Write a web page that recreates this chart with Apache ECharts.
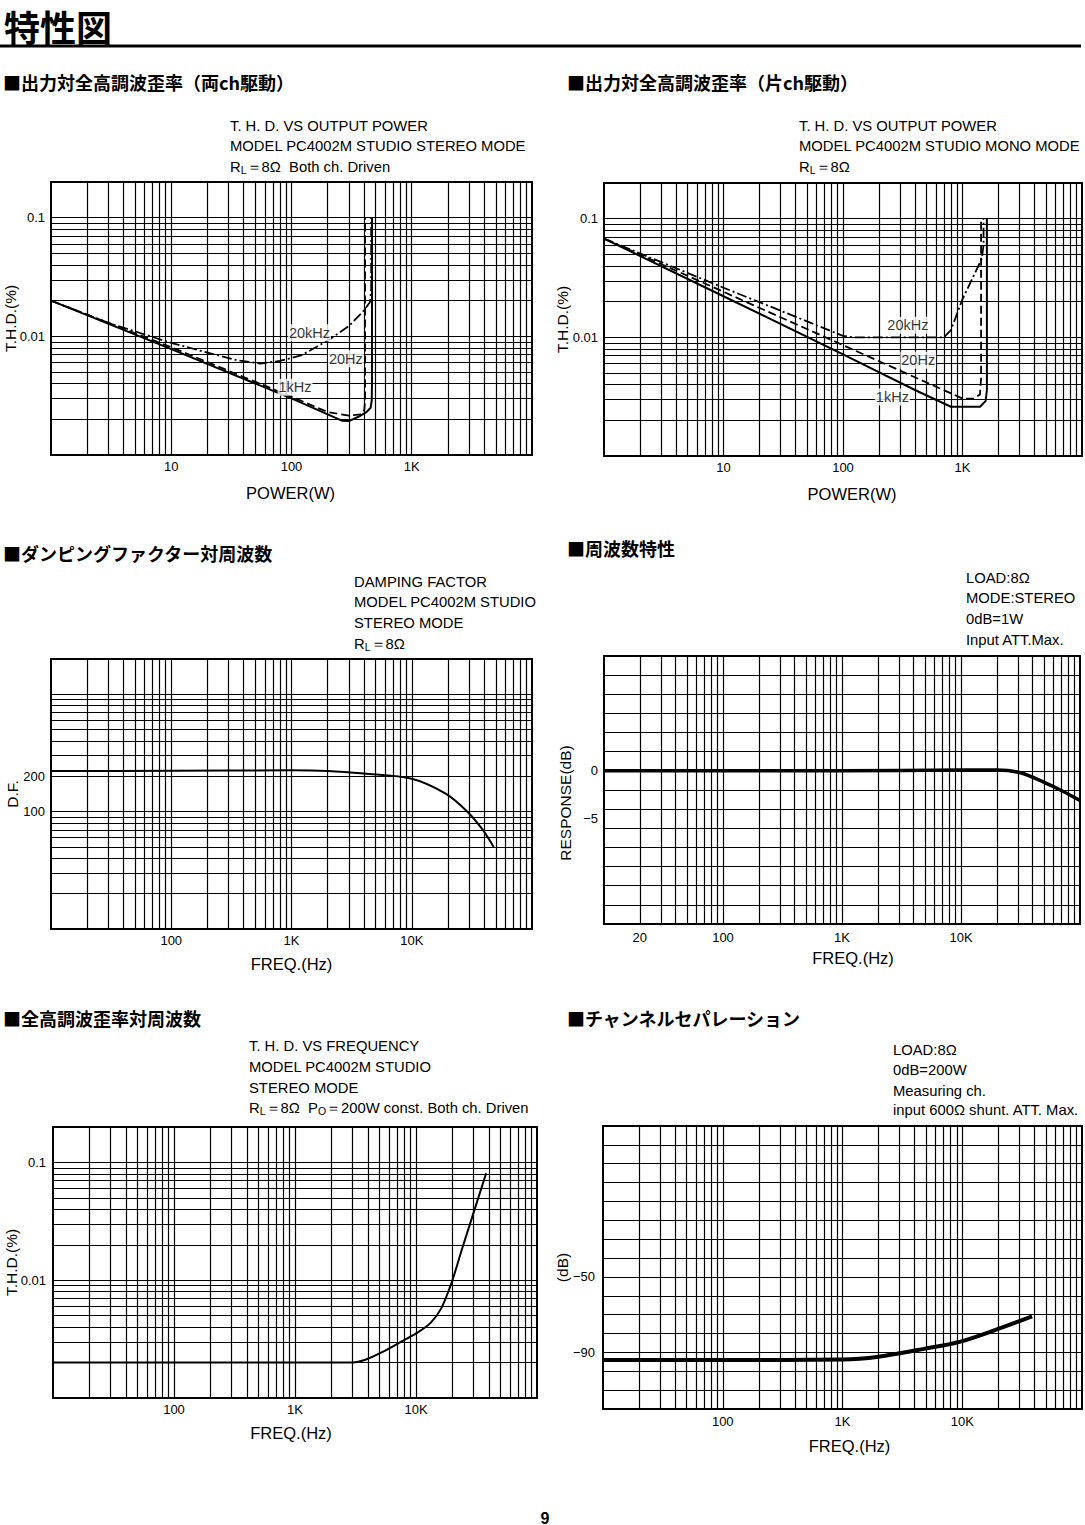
<!DOCTYPE html>
<html>
<head>
<meta charset="utf-8">
<script src="https://cdn.jsdelivr.net/npm/echarts@6/dist/echarts.min.js"></script>
<style>
html,body{margin:0;padding:0;background:#fff;}
#c{width:1085px;height:1525px;}
</style>
</head>
<body>
<div id="c"></div>
<script>
// ================= DATA =================
// Tick labels
const powerTickValues = [10, 100, 1000];
const powerTickLabels = ['10', '100', '1K'];
const freqTickValues = [100, 1000, 10000];
const freqTickLabels = ['100', '1K', '10K'];
const respExtraFreqTick = 20;            // "20" on the frequency-response chart
const thdTickValues = [0.01, 0.1];
const thdTickLabels = ['0.01', '0.1'];
const dfTickValues = [100];
const dfExtraTick = 200;                 // "200" on the damping-factor chart
const respTickValues = [-5, 0];
const sepTickValues = [-90, -50];

// Chart 1: THD vs output power, stereo, both ch driven  [W, %]
const stereo1kHz = [[1,0.02],[10,0.0078],[100,0.003],[200,0.0022],[265,0.00194],[300,0.00193],[360,0.0021],[420,0.0023],[455,0.0025],[465,0.0029],[467,0.004],[467,0.1]];
const stereo20Hz = [[1,0.02],[10,0.0081],[100,0.0031],[200,0.0023],[300,0.00215],[380,0.0022],[403,0.0024],[409,0.0028],[409,0.1]];
const stereo20kHz = [[1,0.02],[3,0.013],[10,0.0088],[20,0.0073],[35,0.0063],[55,0.0059],[80,0.0062],[120,0.0069],[200,0.0092],[300,0.0122],[400,0.0165],[450,0.0195],[460,0.025],[460,0.1]];
const stereoLabels = [{name:'20kHz', value:[141,0.0107]},{name:'20Hz', value:[283,0.00646]},{name:'1kHz', value:[107,0.00372]}];

// Chart 2: THD vs output power, mono  [W, %]
const mono1kHz = [[1,0.068],[10,0.0222],[100,0.0072],[400,0.0036],[800,0.0026],[1400,0.0026],[1560,0.0029],[1600,0.0036],[1600,0.1]];
const mono20Hz = [[1,0.068],[10,0.0242],[100,0.0086],[1000,0.00305],[1250,0.00305],[1400,0.0033],[1430,0.0045],[1430,0.1]];
const mono20kHz = [[1,0.068],[10,0.0262],[100,0.0103],[120,0.01],[700,0.01],[800,0.0115],[1000,0.021],[1450,0.046],[1500,0.06],[1500,0.1]];
const monoLabels = [{name:'20kHz', value:[349,0.01264]},{name:'20Hz', value:[426,0.0064]},{name:'1kHz', value:[259,0.00315]}];

// Chart 3: damping factor vs frequency  [Hz, D.F.]
const dampingFactor = [[10,222],[100,223],[1000,225],[2000,222],[4000,211],[10000,191],[19000,143],[29000,100],[39000,70],[48000,50]];

// Chart 4: frequency response  [Hz, dB]
const freqResponse = [[10,0],[100,0],[1000,0],[10000,0.1],[20000,0.1],[31600,-0.2],[50000,-1.2],[71000,-2.1],[100000,-3.1]];

// Chart 5: THD vs frequency  [Hz, %]
const thdVsFreq = [[10,0.002],[1000,0.002],[3000,0.002],[3760,0.0021],[5250,0.00245],[7300,0.00295],[10200,0.00357],[13200,0.00434],[16200,0.0058],[19800,0.0097],[24000,0.0184],[29300,0.035],[38000,0.081]];

// Chart 6: channel separation  [Hz, dB]
const separation = [[10,-94],[100,-94],[1000,-93.8],[2000,-92.3],[4900,-88],[9500,-84.4],[18500,-78.3],[38300,-70.9]];

// ================= LAYOUT / STYLE =================
const LATIN = '"Liberation Sans", Arial, Helvetica, sans-serif';
const CJK = '"Noto Sans CJK JP", "Noto Sans CJK SC", sans-serif';
const INK = '#000';

const grids = [
  {left:51, top:182, width:481, height:273},
  {left:604, top:183, width:478, height:273},
  {left:51, top:659, width:481, height:270},
  {left:604, top:656, width:476, height:268},
  {left:53, top:1127, width:484, height:271},
  {left:603, top:1126, width:479, height:283}
].map(g => Object.assign({show:true, borderColor:INK, borderWidth:2, backgroundColor:'transparent', containLabel:false, outerBoundsMode:'none'}, g));

function decadeGrid(min, max) {
  const out = [];
  for (let d = Math.floor(Math.log10(min)); d <= Math.ceil(Math.log10(max)); d++) {
    for (let k = 1; k <= 9; k++) {
      const v = Number((k * Math.pow(10, d)).toPrecision(8));
      if (v > min * 1.000001 && v < max * 0.999999) out.push(v);
    }
  }
  return out;
}
function pickLog(vals, labels) {
  return v => { const i = vals.findIndex(t => Math.abs(Math.log10(v) - Math.log10(t)) < 1e-6); return i >= 0 ? labels[i] : ''; };
}
function pickLin(vals) {
  return v => vals.some(t => Math.abs(v - t) < 1e-9) ? String(v).replace('-', '\u2212') : '';
}
const TICK_SIZE = 13;
const tickFont = {color:INK, fontFamily:LATIN, fontSize:TICK_SIZE};
const nameFont = {color:INK, fontFamily:LATIN, fontSize:16.5};
const yNameFont = {color:INK, fontFamily:LATIN, fontSize:15.5, lineHeight:16};

function baseAxis(gi, extra) {
  return Object.assign({
    gridIndex:gi, axisLine:{show:false}, axisTick:{show:false}, splitLine:{show:false},
    minorTick:{show:false}, minorSplitLine:{show:false}, nameLocation:'middle', nameMoveOverlap:false
  }, extra);
}
function shiftPad(s) { return s >= 0 ? [0,0,0,2*s] : [0,-2*s,0,0]; }

const xAxes = [
  baseAxis(0, {type:'log', logBase:10, min:1, max:10000, axisLabel:Object.assign({margin:5, formatter:pickLog(powerTickValues, powerTickLabels)}, tickFont), name:'POWER(W)', nameGap:29, nameTextStyle:Object.assign({padding:shiftPad(-1)}, nameFont)}),
  baseAxis(1, {type:'log', logBase:10, min:1, max:10000, axisLabel:Object.assign({margin:5, formatter:pickLog(powerTickValues, powerTickLabels)}, tickFont), name:'POWER(W)', nameGap:29, nameTextStyle:Object.assign({padding:shiftPad(9)}, nameFont)}),
  baseAxis(2, {type:'log', logBase:10, min:10, max:100000, axisLabel:Object.assign({margin:5, formatter:pickLog(freqTickValues, freqTickLabels)}, tickFont), name:'FREQ.(Hz)', nameGap:26, nameTextStyle:Object.assign({padding:shiftPad(0)}, nameFont)}),
  baseAxis(3, {type:'log', logBase:10, min:10, max:100000, axisLabel:Object.assign({margin:7, formatter:pickLog(freqTickValues, freqTickLabels)}, tickFont), name:'FREQ.(Hz)', nameGap:25, nameTextStyle:Object.assign({padding:shiftPad(11)}, nameFont)}),
  baseAxis(4, {type:'log', logBase:10, min:10, max:100000, axisLabel:Object.assign({margin:5, formatter:pickLog(freqTickValues, freqTickLabels)}, tickFont), name:'FREQ.(Hz)', nameGap:26, nameTextStyle:Object.assign({padding:shiftPad(-4)}, nameFont)}),
  baseAxis(5, {type:'log', logBase:10, min:10, max:100000, axisLabel:Object.assign({margin:6, formatter:pickLog(freqTickValues, freqTickLabels)}, tickFont), name:'FREQ.(Hz)', nameGap:28, nameTextStyle:Object.assign({padding:shiftPad(7)}, nameFont)})
];

const yAxes = [
  baseAxis(0, {type:'log', logBase:10, min:0.001, max:0.2, axisLabel:Object.assign({margin:6, formatter:pickLog(thdTickValues, thdTickLabels)}, tickFont), name:'T.H.D.(%)', nameGap:33, nameRotate:90, nameTextStyle:yNameFont}),
  baseAxis(1, {type:'log', logBase:10, min:0.001, max:0.2, axisLabel:Object.assign({margin:6, formatter:pickLog(thdTickValues, thdTickLabels)}, tickFont), name:'T.H.D.(%)', nameGap:34, nameRotate:90, nameTextStyle:yNameFont}),
  baseAxis(2, {type:'log', logBase:10, min:10, max:2000, axisLabel:Object.assign({margin:6, formatter:pickLog(dfTickValues, dfTickValues.map(String))}, tickFont), name:'D.F.', nameGap:31, nameRotate:90, nameTextStyle:yNameFont}),
  baseAxis(3, {type:'value', min:-16, max:12, interval:2, splitLine:{show:true, lineStyle:{color:INK, width:1.2}}, axisLabel:Object.assign({margin:6, customValues:respTickValues, formatter:pickLin(respTickValues)}, tickFont), name:'RESPONSE(dB)', nameGap:31, nameRotate:90, nameTextStyle:Object.assign({}, yNameFont, {padding:[0,0,0,-26]})}),
  baseAxis(4, {type:'log', logBase:10, min:0.001, max:0.2, axisLabel:Object.assign({margin:7, formatter:pickLog(thdTickValues, thdTickLabels)}, tickFont), name:'T.H.D.(%)', nameGap:34, nameRotate:90, nameTextStyle:yNameFont}),
  baseAxis(5, {type:'value', min:-120, max:30, interval:10, splitLine:{show:true, lineStyle:{color:INK, width:1.2}}, axisLabel:Object.assign({margin:8, formatter:pickLin(sepTickValues)}, tickFont), name:'(dB)', nameGap:33, nameRotate:90, nameTextStyle:yNameFont})
];

// Graph-paper rulings drawn through the axes' own scales
function paper(xVals, yVals, labeled) {
  const data = [];
  const lab = labeled || [];
  xVals.forEach(v => { if (!lab.some(l => l.xAxis === v)) data.push({xAxis:v}); });
  yVals.forEach(v => { if (!lab.some(l => l.yAxis === v)) data.push({yAxis:v}); });
  lab.forEach(l => data.push(l));
  return {silent:true, symbol:['none','none'], precision:8, label:{show:false}, lineStyle:{color:INK, width:1.2, type:'solid'}, emphasis:{disabled:true}, animation:false, data};
}
function tickLabelItem(axisKey, value, text, distance) {
  const item = {label:{show:true, position:'start', formatter:text, distance:distance, color:INK, fontFamily:LATIN, fontSize:TICK_SIZE}};
  item[axisKey] = value;
  return item;
}

function line(gi, data, width, dash, extra) {
  return Object.assign({
    type:'line', xAxisIndex:gi, yAxisIndex:gi, data, showSymbol:false, symbol:'none', silent:true,
    lineStyle:{color:INK, width:width, type:dash || 'solid', cap:'butt', join:'round'}, z:3, animation:false
  }, extra || {});
}
function curveLabels(gi, items) {
  return {type:'scatter', xAxisIndex:gi, yAxisIndex:gi, z:10, symbol:'rect', symbolSize:1, silent:true,
    itemStyle:{color:'rgba(0,0,0,0)'}, animation:false,
    label:{show:true, position:'inside', formatter:'{b}', color:INK, fontFamily:LATIN, fontSize:14.5, backgroundColor:'#fff', padding:[1,1]},
    data:items};
}

const DASH = [8,4];
const DASHDOT = [10,3,2,3];

const series = [
  line(0, stereo1kHz, 2, 'solid', {markLine:paper(decadeGrid(1,10000), decadeGrid(0.001,0.2))}),
  line(0, stereo20Hz, 1.8, DASH),
  line(0, stereo20kHz, 1.8, DASHDOT),
  curveLabels(0, stereoLabels),

  line(1, mono1kHz, 2, 'solid', {markLine:paper(decadeGrid(1,10000), decadeGrid(0.001,0.2))}),
  line(1, mono20Hz, 1.8, DASH),
  line(1, mono20kHz, 1.8, DASHDOT),
  curveLabels(1, monoLabels),

  line(2, dampingFactor, 2, 'solid', {smooth:0.3, markLine:paper(decadeGrid(10,100000), decadeGrid(10,2000), [tickLabelItem('yAxis', dfExtraTick, String(dfExtraTick), 6)])}),

  line(3, freqResponse, 3.5, 'solid', {smooth:0.3, markLine:paper(decadeGrid(10,100000), [], [tickLabelItem('xAxis', respExtraFreqTick, String(respExtraFreqTick), 7)])}),

  line(4, thdVsFreq, 2, 'solid', {smooth:0.25, markLine:paper(decadeGrid(10,100000), decadeGrid(0.001,0.2))}),

  line(5, separation, 4, 'solid', {smooth:0.3, markLine:paper(decadeGrid(10,100000), [])})
];

// ================= TEXT =================
const BLOCK_SIZE = 14.8;
function txt(x, y, text, opt) {
  opt = opt || {};
  return {type:'text', x:x, y:y, silent:true, z:100, style:Object.assign({
    text:text, fill:INK, fontFamily:LATIN, fontSize:BLOCK_SIZE, fontWeight:'normal',
    align:'left', verticalAlign:'middle', textAlign:'left', textVerticalAlign:'middle',
    rich:{s:{fontSize:10.5, fontFamily:LATIN, fill:INK, padding:[6,0,0,0]}}
  }, opt)};
}
function header(x, y, text) { return txt(x, y, text, {fontFamily:CJK, fontSize:18, fontWeight:'bold', lineHeight:20}); }
function block(x, ys, lines) { return lines.map((l, i) => txt(x, ys[i], l)); }

const graphics = [
  txt(4, 26, '特性図', {fontFamily:CJK, fontSize:36, fontWeight:'bold', lineHeight:36}),
  {type:'line', silent:true, shape:{x1:0, y1:46, x2:1081, y2:46}, style:{stroke:INK, lineWidth:3}},
  header(3, 82, '■出力対全高調波歪率（両ch駆動）'),
  header(567, 82, '■出力対全高調波歪率（片ch駆動）'),
  header(3, 553, '■ダンピングファクター対周波数'),
  header(567, 548, '■周波数特性'),
  header(3, 1018, '■全高調波歪率対周波数'),
  header(567, 1018, '■チャンネルセパレーション'),
  ...block(230, [126,146,167], ['T. H. D. VS OUTPUT POWER', 'MODEL PC4002M STUDIO STEREO MODE', 'R{s|L}\uFF1D8\u03A9  Both ch. Driven']),
  ...block(799, [126,146,167], ['T. H. D. VS OUTPUT POWER', 'MODEL PC4002M STUDIO MONO MODE', 'R{s|L}\uFF1D8\u03A9']),
  ...block(354, [582,602,623,644], ['DAMPING FACTOR', 'MODEL PC4002M STUDIO', 'STEREO MODE', 'R{s|L}\uFF1D8\u03A9']),
  ...block(966, [578,598,619,640], ['LOAD:8\u03A9', 'MODE:STEREO', '0dB=1W', 'Input ATT.Max.']),
  ...block(249, [1046,1067,1088,1108], ['T. H. D. VS FREQUENCY', 'MODEL PC4002M STUDIO', 'STEREO MODE', 'R{s|L}\uFF1D8\u03A9  P{s|O}\uFF1D200W const. Both ch. Driven']),
  ...block(893, [1050,1070,1091,1110], ['LOAD:8\u03A9', '0dB=200W', 'Measuring ch.', 'input 600\u03A9 shunt. ATT. Max.']),
  txt(545, 1518, '9', {fontSize:16, fontWeight:'bold', align:'center', textAlign:'center'})
];

const chart = echarts.init(document.getElementById('c'), null, {renderer:'svg', width:1085, height:1525});
chart.setOption({
  backgroundColor:'#fff',
  animation:false,
  grid:grids,
  xAxis:xAxes,
  yAxis:yAxes,
  series:series,
  graphic:graphics
});
</script>
</body>
</html>
